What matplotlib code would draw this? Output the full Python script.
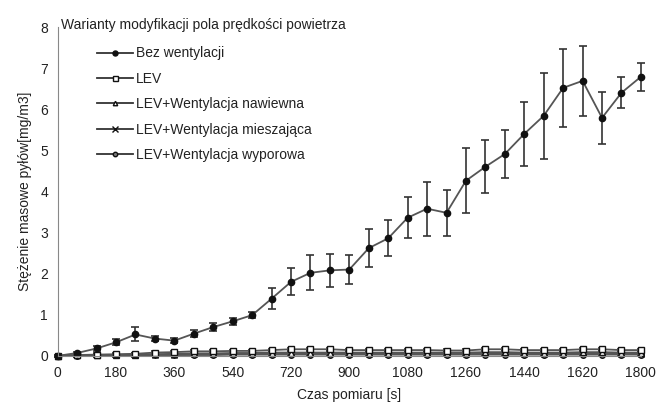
import numpy as np
import matplotlib
matplotlib.use('Agg')
import matplotlib.pyplot as plt
from matplotlib.lines import Line2D

plt.rcParams['font.family'] = ['Liberation Sans', 'DejaVu Sans']

czas = list(range(0, 1801, 60))

bez = [0.0, 0.07, 0.18, 0.33, 0.52, 0.42, 0.37, 0.54, 0.70, 0.84, 0.99, 1.39, 1.80, 2.02, 2.08, 2.10,
       2.62, 2.86, 3.36, 3.58, 3.48, 4.26, 4.60, 4.91, 5.40, 5.84, 6.52, 6.69, 5.79, 6.40, 6.79]
bez_err = [0.0, 0.02, 0.05, 0.07, 0.17, 0.06, 0.06, 0.09, 0.09, 0.09, 0.07, 0.26, 0.33, 0.43, 0.40, 0.36,
           0.47, 0.44, 0.50, 0.66, 0.56, 0.79, 0.65, 0.58, 0.77, 1.05, 0.95, 0.85, 0.63, 0.38, 0.34]

lev = [0.0, 0.02, 0.03, 0.04, 0.05, 0.08, 0.09, 0.11, 0.11, 0.12, 0.12, 0.14, 0.16, 0.16, 0.16, 0.14,
       0.14, 0.14, 0.14, 0.14, 0.13, 0.13, 0.16, 0.16, 0.14, 0.14, 0.14, 0.16, 0.16, 0.14, 0.14]
nawiewna = [0.0, 0.01, 0.02, 0.02, 0.03, 0.04, 0.05, 0.06, 0.06, 0.07, 0.07, 0.08, 0.08, 0.08, 0.08, 0.08,
            0.08, 0.08, 0.08, 0.08, 0.08, 0.08, 0.09, 0.09, 0.08, 0.08, 0.08, 0.09, 0.09, 0.08, 0.08]
mieszajaca = [0.0, 0.01, 0.01, 0.02, 0.02, 0.03, 0.03, 0.04, 0.04, 0.05, 0.05, 0.05, 0.06, 0.06, 0.06, 0.05,
              0.05, 0.05, 0.05, 0.05, 0.05, 0.05, 0.06, 0.06, 0.05, 0.05, 0.05, 0.06, 0.06, 0.05, 0.05]
wyporowa = [0.0, 0.0, 0.01, 0.01, 0.01, 0.02, 0.02, 0.02, 0.02, 0.03, 0.03, 0.03, 0.03, 0.03, 0.03, 0.03,
            0.03, 0.03, 0.03, 0.03, 0.03, 0.03, 0.03, 0.03, 0.03, 0.03, 0.03, 0.03, 0.03, 0.03, 0.03]
male_err = [0.03] * len(czas)

serie = [
    ('Bez wentylacji', bez, bez_err, 'o', '#111111', 4.5),
    ('LEV', lev, male_err, 's', 'white', 4.5),
    ('LEV+Wentylacja nawiewna', nawiewna, male_err, '^', 'white', 4),
    ('LEV+Wentylacja mieszająca', mieszajaca, male_err, 'x', '#111111', 5),
    ('LEV+Wentylacja wyporowa', wyporowa, male_err, 'o', '#777777', 4),
]

fig = plt.figure(figsize=(6.56, 4.03), dpi=100)
ax = fig.add_axes([0.088, 0.117, 0.889, 0.816])

uchwyty = []
for nazwa, y, err, m, fc, ms in serie[::-1]:
    ax.errorbar(czas, y, yerr=err, marker=m, ms=ms, markerfacecolor=fc, color='#555555', lw=1.3,
                ecolor='#333333', elinewidth=1.2, capsize=3, capthick=1.2,
                markeredgecolor='#111111', clip_on=False)
for nazwa, y, err, m, fc, ms in serie:
    uchwyty.append(Line2D([], [], color='#333333', lw=1.3, marker=m, ms=ms * 0.8,
                          markerfacecolor=fc, markeredgecolor='#111111', label=nazwa))

ax.set_xlim(0, 1800)
ax.set_ylim(0, 8)
ax.set_xticks(range(0, 1801, 180))
ax.set_yticks(range(0, 9))
ax.tick_params(length=0, labelsize=10, colors='#222222', pad=7)
for s in ['top', 'right']:
    ax.spines[s].set_visible(False)
ax.spines['left'].set_color('#888888')
ax.spines['bottom'].set_color('#888888')

ax.set_xlabel('Czas pomiaru [s]', fontsize=10, color='#222222', labelpad=6)
ax.set_ylabel('Stężenie masowe pyłów[mg/m3]', fontsize=10, color='#222222', labelpad=6)

ax.text(0.006, 1.005, 'Warianty modyfikacji pola prędkości powietrza', transform=ax.transAxes,
        fontsize=10, color='#222222', va='center', ha='left')
leg = ax.legend(handles=uchwyty, loc='upper left', bbox_to_anchor=(0.058, 0.958), frameon=False,
                fontsize=10, handlelength=2.6, handletextpad=0.2, labelspacing=0.82, borderaxespad=0)
for t in leg.get_texts():
    t.set_color('#222222')

fig.savefig('out.png', dpi=100)
